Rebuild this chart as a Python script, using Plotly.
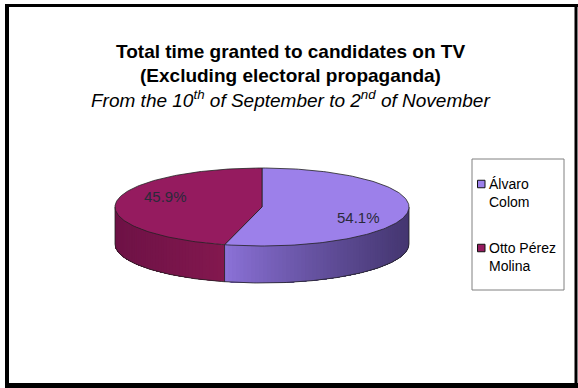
import numpy as np
import plotly.graph_objects as go

# ---- data ----
candidates = ["Álvaro<br>Colom", "Otto Pérez<br>Molina"]
shares = [54.1, 45.9]
labels = ["54.1%", "45.9%"]
top_colors = ["#9c80ea", "#951b5f"]
side_light = ["#8d73da", "#84184f"]
side_dark = ["#443670", "#6e1246"]
title_lines = ["<b>Total time granted to candidates on TV</b>",
               "<b>(Excluding electoral propaganda)</b>",
               "<i>From the 10<sup>th</sup> of September to 2<sup>nd</sup> of November</i>"]

# ---- geometry (styling) ----
W, H = 578, 388
cx, cy, rx, ry, depth = 262, 207, 147, 39, 37
FONT = "Arial, Liberation Sans, sans-serif"

def pt(theta_deg, dy=0.0):
    t = np.radians(theta_deg)
    return cx + rx * np.sin(t), cy - ry * np.cos(t) + dy

def hex2rgb(h):
    h = h.lstrip("#")
    return np.array([int(h[i:i + 2], 16) for i in (0, 2, 4)], float)

def mix(a, b, f):
    c = hex2rgb(a) * (1 - f) + hex2rgb(b) * f
    return "rgb(%d,%d,%d)" % tuple(np.round(c))

fig = go.Figure()

total = sum(shares)
starts, ends = [], []
acc = 0.0
for s in shares:
    starts.append(acc / total * 360)
    acc += s
    ends.append(acc / total * 360)

# side faces (front half: 90..270 deg clockwise from top), smooth gradient
for i in range(len(shares)):
    a, b = max(starts[i], 90), min(ends[i], 270)
    if a >= b:
        continue
    n = max(2, int((b - a) / 1.5))
    edges = np.linspace(a, b, n + 1)
    xa, xb = pt(a)[0], pt(b)[0]
    light_x = max(xa, xb) if i == 1 else min(xa, xb)
    dark_x = min(xa, xb) if i == 1 else max(xa, xb)
    for k in range(n):
        # each strip extends to the end of the face, later strips overlay earlier ones
        tt = np.linspace(edges[k], b, max(3, int((b - edges[k]) / 2) + 2))
        xs_top, ys_top = pt(tt)
        xs_bot, ys_bot = pt(tt[::-1], depth)
        xm, _ = pt((edges[k] + edges[k + 1]) / 2)
        f = np.clip(abs(xm - light_x) / max(1e-6, abs(dark_x - light_x)), 0, 1) ** 0.85
        col = mix(side_light[i], side_dark[i], f)
        fig.add_trace(go.Scatter(
            x=np.concatenate([xs_top, xs_bot, xs_top[:1]]),
            y=np.concatenate([ys_top, ys_bot, ys_top[:1]]),
            mode="lines", fill="toself", fillcolor=col,
            line=dict(width=0), hoverinfo="skip", showlegend=False))

# side outline
tt = np.linspace(90, 270, 200)
xs, ys = pt(tt, depth)
fig.add_trace(go.Scatter(x=xs, y=ys, mode="lines", line=dict(color="#222", width=0.8),
                         hoverinfo="skip", showlegend=False))
for th in (90, 270, ends[0]):
    x0, y0 = pt(th)
    x1, y1 = pt(th, depth)
    fig.add_trace(go.Scatter(x=[x0, x1], y=[y0, y1], mode="lines",
                             line=dict(color="#222", width=0.8),
                             hoverinfo="skip", showlegend=False))

# top faces
for i in range(len(shares)):
    tt = np.linspace(starts[i], ends[i], 150)
    xs, ys = pt(tt)
    fig.add_trace(go.Scatter(
        x=np.concatenate([[cx], xs, [cx]]), y=np.concatenate([[cy], ys, [cy]]),
        mode="lines", fill="toself", fillcolor=top_colors[i],
        line=dict(color="#222", width=0.8), hoverinfo="skip", showlegend=False))

annotations = []
# slice labels, placed from each slice's mid angle
for i in range(len(shares)):
    mid = np.radians((starts[i] + ends[i]) / 2)
    lx = cx + rx * 0.66 * np.sin(mid)
    ly = cy - ry * 2.1 * np.cos(mid)
    annotations.append(dict(x=lx, y=ly, xref="x", yref="y", text=labels[i],
                            showarrow=False, xanchor="center", yanchor="middle",
                            font=dict(family=FONT, size=15, color="#2a2a3a")))

# title lines
for j, line in enumerate(title_lines):
    annotations.append(dict(x=290, y=51 + 24 * j, xref="x", yref="y", text=line,
                            showarrow=False, xanchor="center", yanchor="middle",
                            font=dict(family=FONT, size=19, color="black")))

shapes = []
# legend (box, keys, names)
leg_x0, leg_y0, leg_x1, leg_y1 = 472, 159, 564, 290
shapes.append(dict(type="rect", xref="x", yref="y", x0=leg_x0, y0=leg_y0, x1=leg_x1, y1=leg_y1,
                   line=dict(color="#808080", width=1), fillcolor="white", layer="below"))
for i, name in enumerate(candidates):
    ky = 184 + 64 * i
    shapes.append(dict(type="rect", xref="x", yref="y", x0=477.5, x1=485,
                       y0=ky - 3.75, y1=ky + 3.75, fillcolor=top_colors[i],
                       line=dict(color="#111", width=1)))
    annotations.append(dict(x=487, y=ky - 10, xref="x", yref="y", text=name,
                            showarrow=False, xanchor="left", yanchor="top", align="left",
                            font=dict(family=FONT, size=14, color="black")))

# chart frame
shapes += [
    dict(type="line", xref="x", yref="y", x0=7, x1=7, y0=4, y1=388, line=dict(color="black", width=4)),
    dict(type="line", xref="x", yref="y", x0=5, x1=578, y0=5.5, y1=5.5, line=dict(color="black", width=3)),
    dict(type="line", xref="x", yref="y", x0=5, x1=578, y0=385.5, y1=385.5, line=dict(color="black", width=5)),
    dict(type="line", xref="x", yref="y", x0=576, x1=576, y0=4, y1=388, line=dict(color="black", width=3)),
]

fig.update_layout(
    width=W, height=H,
    margin=dict(l=0, r=0, t=0, b=0),
    paper_bgcolor="white", plot_bgcolor="white",
    xaxis=dict(range=[0, W], visible=False, fixedrange=True),
    yaxis=dict(range=[H, 0], visible=False, fixedrange=True),
    annotations=annotations,
    shapes=shapes,
    showlegend=False,
)

fig.write_html("out.html")
